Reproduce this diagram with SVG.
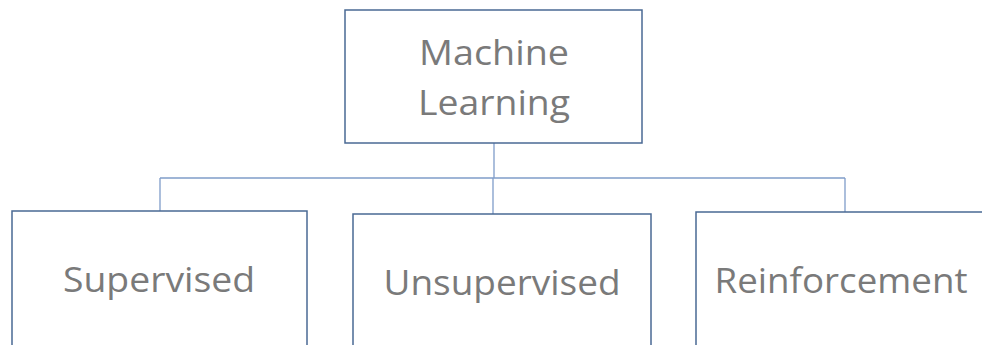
<svg xmlns="http://www.w3.org/2000/svg" width="982" height="345" viewBox="0 0 982 345">
  <style>
    .box { fill: #ffffff; stroke: #4a6994; stroke-width: 1.5; }
    .link { fill: none; stroke: #7f9cc9; stroke-width: 1.3; }
    .label { font-family: "Open Sans", "Liberation Sans", sans-serif; font-size: 35px; fill: #7a7a7a; text-anchor: middle; }
  </style>
  <rect width="982" height="345" fill="#ffffff"/>

  <!-- connectors: trunk from root, bus, and drops to each child -->
  <g id="connectors">
    <path class="link" d="M494,143 V178"/>
    <path class="link" d="M160,178 H845"/>
    <path class="link" d="M160,178 V211"/>
    <path class="link" d="M493,178 V214"/>
    <path class="link" d="M845,178 V212"/>
  </g>

  <g id="machine-learning">
    <rect class="box" x="345" y="10" width="297" height="133"/>
    <text class="label" x="494" y="65" textLength="150" lengthAdjust="spacingAndGlyphs">Machine</text>
    <text class="label" x="494" y="115" textLength="152" lengthAdjust="spacingAndGlyphs">Learning</text>
  </g>

  <g id="supervised">
    <rect class="box" x="12" y="211" width="295" height="150"/>
    <text class="label" x="159" y="292" textLength="192" lengthAdjust="spacingAndGlyphs">Supervised</text>
  </g>

  <g id="unsupervised">
    <rect class="box" x="353" y="214" width="298" height="150"/>
    <text class="label" x="502" y="295" textLength="237" lengthAdjust="spacingAndGlyphs">Unsupervised</text>
  </g>

  <g id="reinforcement">
    <rect class="box" x="696" y="212" width="300" height="150"/>
    <text class="label" x="841" y="293" textLength="253" lengthAdjust="spacingAndGlyphs">Reinforcement</text>
  </g>
</svg>
